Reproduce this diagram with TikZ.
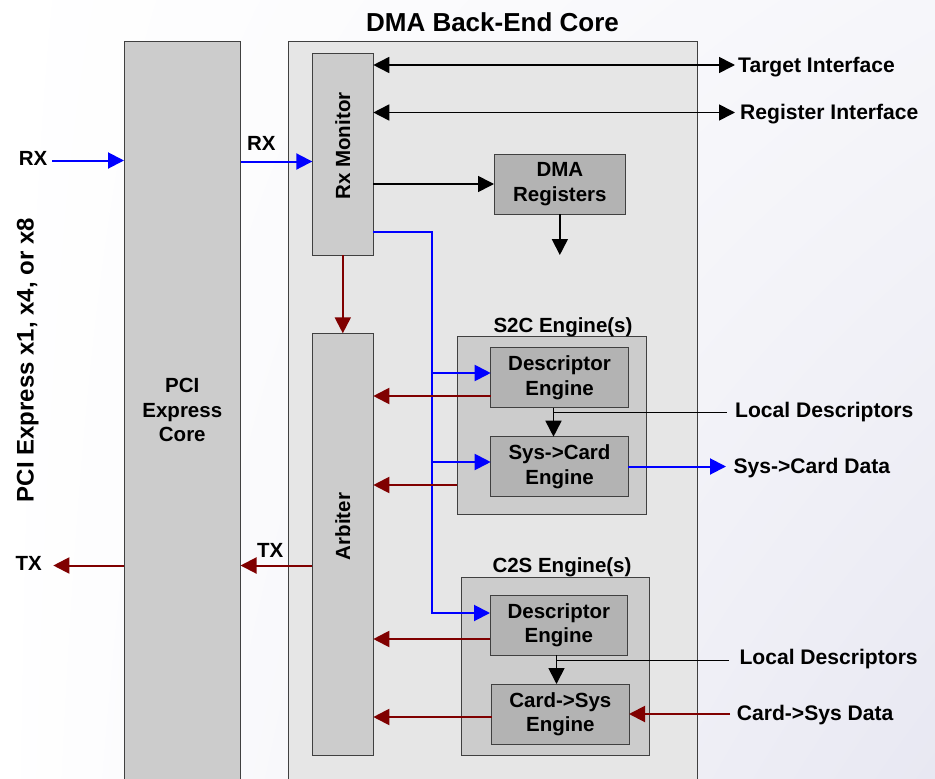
\documentclass[tikz,border=0pt]{standalone}
\usepackage{fontspec}
\setmainfont{Liberation Sans}
\usetikzlibrary{arrows.meta,calc,shadings}
\definecolor{dred}{HTML}{800000}
\definecolor{pblue}{HTML}{0000FF}
\definecolor{fillA}{HTML}{CCCCCC}
\definecolor{fillB}{HTML}{E6E6E6}
\definecolor{fillC}{HTML}{B3B3B3}
\definecolor{edge}{HTML}{404040}
\definecolor{bgR}{HTML}{E8E8F2}
\definecolor{bgT}{HTML}{F6F6FA}
\begin{document}
\begin{tikzpicture}[x=1pt,y=-1pt,
  font=\bfseries\fontsize{20.5}{24.5}\selectfont,
  box/.style={draw=edge, line width=1pt, inner sep=0pt, outer sep=0pt, anchor=north west, align=center},
  lab/.style={inner sep=0pt, text height=14.7pt, text depth=0pt},
  olab/.style={lab, anchor=west, font=\bfseries\fontsize{21.1}{25}\selectfont, text height=15.1pt},
  tip/.style={-{Triangle[length=16pt,width=16pt]}},
  barr/.style={tip, draw=pblue, line width=2pt},
  rarr/.style={tip, draw=dred, line width=2pt},
  karr/.style={tip, draw=black, line width=1.7pt},
  kline/.style={draw=black, line width=1.7pt},
  dbl/.style={{Triangle[length=16pt,width=16pt]}-{Triangle[length=16pt,width=16pt]}, draw=black, line width=1.7pt}]
\shade[upper left=white, upper right=bgT, lower left=white, lower right=bgR] (0,0) rectangle (935,779);
\useasboundingbox (0,0) rectangle (935,779);

% main blocks
\node[box, fill=fillA, minimum width=116.5pt, minimum height=745pt] (pci) at (124,41) {};
\node[align=center] (pcit) at (182.3,410) {PCI\\Express\\Core};
\node[box, fill=fillB, minimum width=409pt, minimum height=745pt] (dma) at (288,41) {};
\node[font=\bfseries\fontsize{26}{30}\selectfont] (title) at (492.5,22) {DMA Back-End Core};

\node[box, fill=fillA, minimum width=61pt, minimum height=202pt] (rxm) at (312.3,53.3) {};
\node[lab, rotate=90] (rxmt) at (342.8,146) {Rx Monitor};
\node[box, fill=fillA, minimum width=61pt, minimum height=422.4pt] (arb) at (312.3,333.3) {};
\node[lab, rotate=90] (arbt) at (342.8,526.5) {Arbiter};

\node[box, fill=fillC, minimum width=131.7pt, minimum height=60pt] (dmareg) at (494,154) {DMA\\Registers};

% S2C
\node[box, fill=fillA, minimum width=188.7pt, minimum height=178.3pt] (s2c) at (457.3,336) {};
\node[lab] (s2ct) at (563,325) {S2C Engine(s)};
\node[box, fill=fillC, minimum width=137.6pt, minimum height=60pt] (d1) at (490.7,347.7) {Descriptor\\Engine};
\node[box, fill=fillC, minimum width=137.6pt, minimum height=60pt] (sc) at (490.7,436.7) {Sys->Card\\Engine};

% C2S
\node[box, fill=fillA, minimum width=188.7pt, minimum height=178.4pt] (c2s) at (461,577.3) {};
\node[lab] (c2st) at (562,565) {C2S Engine(s)};
\node[box, fill=fillC, minimum width=137.7pt, minimum height=60pt] (d2) at (490,595) {Descriptor\\Engine};
\node[box, fill=fillC, minimum width=137.3pt, minimum height=60pt] (cs) at (491.7,684) {Card->Sys\\Engine};

% outside labels
\node[lab, rotate=90, font=\bfseries\fontsize{24}{28}\selectfont, text height=17.2pt] (pcie) at (25,360) {PCI Express x1, x4, or x8};
\node[lab] (rx1) at (33,158.3) {RX};
\node[lab] (rx2) at (261.3,142.7) {RX};
\node[lab] (tx1) at (28.8,563.3) {TX};
\node[lab] (tx2) at (270.3,550) {TX};
\node[olab] (tgtl) at (738,65) {Target Interface};
\node[olab] (regl) at (740,112) {Register Interface};
\node[olab] (ldl1) at (735,410) {Local Descriptors};
\node[olab] (scdl) at (733.3,466) {Sys->Card Data};
\node[olab] (ldl2) at (739.3,656.7) {Local Descriptors};
\node[olab] (csdl) at (736.7,713.3) {Card->Sys Data};

% free ends
\coordinate (rxin) at (52.3,160.5);
\coordinate (txout) at (53.3,565.5);
\coordinate (tgt) at (735,65);
\coordinate (reg) at (735,112.5);
\coordinate (regout) at (560,255);
\coordinate (bj) at (432,232);
\coordinate (j1) at (553.5,412.5);
\coordinate (ld1) at (726.7,412.5);
\coordinate (scd) at (726,466.5);
\coordinate (j2) at (556.5,660.5);
\coordinate (ld2) at (729.3,660.5);
\coordinate (csd) at (730,714);

% connectors
\draw[barr] (rxin) -- (pci.west |- rxin);
\draw[barr] (pci.east |- 0,161.5) -- (rxm.west |- 0,161.5);
\draw[rarr] (pci.west |- txout) -- (txout);
\draw[rarr] (arb.west |- txout) -- (pci.east |- txout);
\draw[dbl] (rxm.east |- tgt) -- (tgt);
\draw[dbl] (rxm.east |- reg) -- (reg);
\draw[karr] (rxm.east |- dmareg.west) -- (dmareg.west);
\draw[karr] (dmareg.south) -- (dmareg.south |- regout);
\draw[rarr] (rxm.south) -- (arb.north);

\draw[barr] (rxm.east |- bj) -- (bj) |- (d2.west |- 0,613);
\draw[barr] (bj |- 0,373) -- (d1.west |- 0,373);
\draw[barr] (bj |- 0,462) -- (sc.west |- 0,462);

\draw[rarr] (d1.west |- 0,396) -- (arb.east |- 0,396);
\draw[rarr] (s2c.west |- 0,485) -- (arb.east |- 0,485);
\draw[rarr] (d2.west |- 0,639) -- (arb.east |- 0,639);
\draw[rarr] (cs.west |- 0,717) -- (arb.east |- 0,717);

\draw[karr] (d1.south -| j1) -- (sc.north -| j1);
\draw[kline] (j1) -- (ld1);
\draw[barr] (sc.east |- scd) -- (scd);
\draw[karr] (d2.south -| j2) -- (cs.north -| j2);
\draw[kline] (j2) -- (ld2);
\draw[rarr] (csd) -- (cs.east |- csd);
\end{tikzpicture}
\end{document}
